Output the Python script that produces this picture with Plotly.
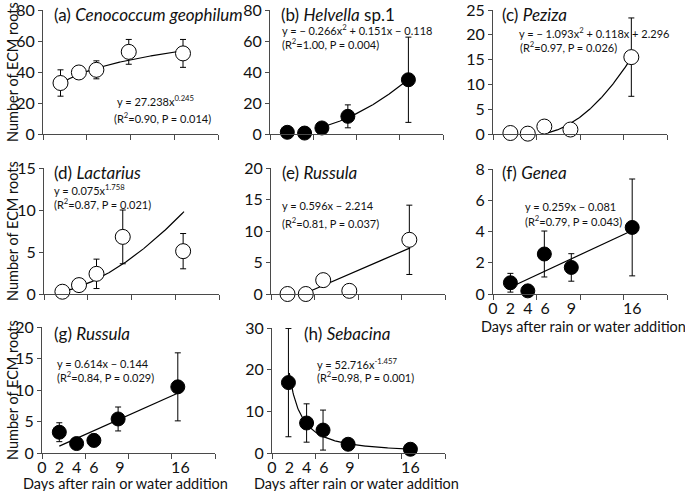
import numpy as np
import plotly.graph_objects as go

W, H = 685, 491
FONT = "Lato"

# ---------------- data ----------------
days_a = [2.0, 4.1, 6.1, 9.8, 16.0]
vals_a = [32.9, 39.7, 41.4, 53.0, 52.0]
err_a = [8.5, 4.0, 5.8, 8.0, 9.0]

days_b = [2.0, 4.0, 6.0, 9.0, 16.0]
vals_b = [1.1, 0.6, 3.9, 11.4, 35.0]
err_b = [0.0, 0.0, 0.0, 7.4, 27.5]

days_c = [2.0, 4.0, 5.9, 8.9, 15.9]
vals_c = [0.2, 0.07, 1.5, 0.9, 15.5]
err_c = [0.0, 0.0, 0.0, 0.0, 7.9]

days_d = [2.1, 4.0, 6.0, 9.0, 15.9]
vals_d = [0.27, 1.06, 2.4, 6.8, 5.1]
err_d = [0.0, 0.0, 1.75, 3.2, 2.1]

days_e = [1.9, 4.0, 6.0, 9.0, 15.9]
vals_e = [0.0, 0.0, 2.2, 0.5, 8.6]
err_e = [0.0, 0.0, 0.0, 0.0, 5.5]

days_f = [2.0, 4.0, 5.9, 9.0, 16.0]
vals_f = [0.72, 0.2, 2.56, 1.7, 4.26]
err_f = [0.6, 0.0, 1.47, 0.88, 3.1]

days_g = [2.0, 4.0, 6.0, 8.8, 15.7]
vals_g = [3.3, 1.5, 2.0, 5.4, 10.5]
err_g = [1.5, 0.4, 1.0, 1.9, 5.4]

days_h = [1.9, 4.0, 5.9, 8.8, 16.0]
vals_h = [16.9, 7.2, 5.5, 2.1, 0.9]
err_h = [13.0, 4.6, 4.8, 0.0, 0.0]

tick_vals_x = [0, 2, 4, 6, 9, 16]
tick_text_x = ["0", "2", "4", "6", "9", "16"]
minor_ticks_x = [0, 5, 10, 15, 20]

y_max = {"a": 80, "b": 80, "c": 25, "d": 15, "e": 20, "f": 8, "g": 20, "h": 30}
y_step = {"a": 20, "b": 20, "c": 5, "d": 5, "e": 5, "f": 2, "g": 5, "h": 10}

titles = {
    "a": ("(a) ", "Cenococcum geophilum", ""),
    "b": ("(b) ", "Helvella", " sp.1"),
    "c": ("(c) ", "Peziza", ""),
    "d": ("(d) ", "Lactarius", ""),
    "e": ("(e) ", "Russula", ""),
    "f": ("(f) ", "Genea", ""),
    "g": ("(g) ", "Russula", ""),
    "h": ("(h) ", "Sebacina", ""),
}

eq_lines = {
    "a": ("y = 27.238x<sup>0.245</sup>", "(R<sup>2</sup>=0.90, P = 0.014)"),
    "b": ("y = − 0.266x<sup>2</sup> + 0.151x − 0.118", "(R<sup>2</sup>=1.00, P = 0.004)"),
    "c": ("y = − 1.093x<sup>2</sup> + 0.118x + 2.296", "(R<sup>2</sup>=0.97, P = 0.026)"),
    "d": ("y = 0.075x<sup>1.758</sup>", "(R<sup>2</sup>=0.87, P = 0.021)"),
    "e": ("y = 0.596x − 2.214", "(R<sup>2</sup>=0.81, P = 0.037)"),
    "f": ("y = 0.259x − 0.081", "(R<sup>2</sup>=0.79, P = 0.043)"),
    "g": ("y = 0.614x − 0.144", "(R<sup>2</sup>=0.84, P = 0.029)"),
    "h": ("y = 52.716x<sup>-1.457</sup>", "(R<sup>2</sup>=0.98, P = 0.001)"),
}

# fit models: (kind, params, x_start, x_end)
fits = {
    "a": ("power", (27.238, 0.245), 2, 16),
    "b": ("quad", None, 6, 16),
    "c": ("quad", None, 6.3, 16),
    "d": ("power", (0.075, 1.758), 2, 16),
    "e": ("linear", (0.596, -2.214), 4, 16),
    "f": ("linear", (0.259, -0.081), 2, 16),
    "g": ("linear", (0.614, -0.144), 2, 16),
    "h": ("power", (52.716, -1.457), 2, 16),
}

data = {
    "a": (days_a, vals_a, err_a, "open"),
    "b": (days_b, vals_b, err_b, "filled"),
    "c": (days_c, vals_c, err_c, "open"),
    "d": (days_d, vals_d, err_d, "open"),
    "e": (days_e, vals_e, err_e, "open"),
    "f": (days_f, vals_f, err_f, "filled"),
    "g": (days_g, vals_g, err_g, "filled"),
    "h": (days_h, vals_h, err_h, "filled"),
}

# ---------------- layout geometry (pixels) ----------------
boxes = {
    "a": (43, 218, 10, 134),
    "b": (270, 443, 10, 134),
    "c": (493, 667, 10, 134),
    "d": (44, 219, 168, 294),
    "e": (271, 445, 168, 294),
    "f": (493, 667, 169, 294),
    "g": (42, 215, 327, 453),
    "h": (272, 445, 328, 453),
}
show_xlabels = {"f", "g", "h"}
title_pos = {"a": (52, 14), "b": (279, 14), "c": (500, 14), "d": (52, 172),
             "e": (280, 172), "f": (500, 173), "g": (52, 333), "h": (302, 333)}
eq_pos = {"a": ((115, 100), (112, 117)), "b": ((280, 29), (280, 44)),
          "c": ((517, 33), (518, 47)), "d": ((52, 189), (52, 203)),
          "e": ((280, 205), (280, 222)), "f": ((523, 207), (523, 220)),
          "g": ((55, 363), (55, 376)), "h": ((315, 363), (315, 376))}

AXC = "#4a4a4a"
fig = go.Figure()
annotations = []

def px(x):
    return x / W

def py(y):
    return 1 - y / H

for i, key in enumerate("abcdefgh"):
    n = i + 1
    xa = "x" if n == 1 else f"x{n}"
    ya = "y" if n == 1 else f"y{n}"
    xs, ys, es, style = data[key]

    kind, params, x0, x1 = fits[key]
    xx = np.linspace(x0, x1, 200)
    if kind == "power":
        yy = params[0] * xx ** params[1]
    elif kind == "linear":
        yy = params[0] * xx + params[1]
    else:
        coef = np.polyfit(xs, ys, 2)
        yy = np.polyval(coef, xx)
        m = yy >= 0
        xx, yy = xx[m], yy[m]
    fig.add_trace(go.Scatter(x=xx, y=yy, mode="lines", xaxis=xa, yaxis=ya,
                             line=dict(color="black", width=1.2),
                             hoverinfo="skip", cliponaxis=False))

    if style == "open":
        marker = dict(size=15, color="white", line=dict(color="black", width=1))
    else:
        marker = dict(size=14, color="black", line=dict(color="black", width=1))
    fig.add_trace(go.Scatter(x=xs, y=ys, mode="markers", xaxis=xa, yaxis=ya,
                             marker=marker, cliponaxis=False,
                             error_y=dict(type="data", array=es, visible=True,
                                          color="black", thickness=1, width=3)))

    bx0, bx1, by0, by1 = boxes[key]
    xdict = dict(domain=[px(bx0), px(bx1)], range=[0, 20], anchor=ya,
                 automargin=False, ticklabeloverflow="allow",
                 showline=True, linecolor=AXC, linewidth=1, showgrid=False,
                 zeroline=False, tickmode="array", tickvals=tick_vals_x,
                 ticktext=tick_text_x, ticks="",
                 showticklabels=key in show_xlabels,
                 tickfont=dict(family=FONT, size=16, color="#111"),
                 minor=dict(tickmode="array", tickvals=minor_ticks_x, ticks="outside",
                            ticklen=5, tickcolor=AXC, tickwidth=1, showgrid=False))
    ydict = dict(domain=[py(by1), py(by0)], range=[0, y_max[key]], anchor=xa,
                 automargin=False, ticklabeloverflow="allow",
                 showline=True, linecolor=AXC, linewidth=1, showgrid=False,
                 zeroline=False, tickmode="array",
                 tickvals=list(range(0, y_max[key] + 1, y_step[key])),
                 ticks="outside", ticklen=4, tickcolor=AXC,
                 tickfont=dict(family=FONT, size=16, color="#111"))
    fig.update_layout(**{("xaxis" if n == 1 else f"xaxis{n}"): xdict,
                         ("yaxis" if n == 1 else f"yaxis{n}"): ydict})

    pre, ital, post = titles[key]
    tx, ty = title_pos[key]
    annotations.append(dict(text=f"{pre}<i>{ital}</i>{post}", xref="paper", yref="paper",
                            x=px(tx), y=py(ty), xanchor="left", yanchor="middle",
                            showarrow=False, font=dict(family=FONT, size=17, color="#111")))
    (l1x, l1y), (l2x, l2y) = eq_pos[key]
    l1, l2 = eq_lines[key]
    annotations.append(dict(text=l1, xref="paper", yref="paper", x=px(l1x), y=py(l1y),
                            xanchor="left", yanchor="middle", showarrow=False,
                            font=dict(family=FONT, size=11, color="#111")))
    annotations.append(dict(text=l2, xref="paper", yref="paper", x=px(l2x), y=py(l2y),
                            xanchor="left", yanchor="middle", showarrow=False,
                            font=dict(family=FONT, size=11, color="#111")))

# axis titles
for cy in (72, 231, 390):
    annotations.append(dict(text="Number of ECM roots", xref="paper", yref="paper",
                            x=px(12), y=py(cy), xanchor="center", yanchor="middle",
                            textangle=-90, showarrow=False,
                            font=dict(family=FONT, size=14.5, color="#111")))
for cx, cy in ((126, 483), (356, 483), (583, 326)):
    annotations.append(dict(text="Days after rain or water addition", xref="paper",
                            yref="paper", x=px(cx), y=py(cy), xanchor="center",
                            yanchor="middle", showarrow=False,
                            font=dict(family=FONT, size=14.5, color="#111")))

fig.update_layout(width=W, height=H, margin=dict(l=0, r=0, t=0, b=0, autoexpand=False),
                  template="none",
                  paper_bgcolor="white", plot_bgcolor="white", showlegend=False,
                  annotations=annotations)

fig.write_html("out.html", config={"displayModeBar": False, "staticPlot": True},
               post_script="document.body.style.margin='0px';document.body.style.padding='0px';")
